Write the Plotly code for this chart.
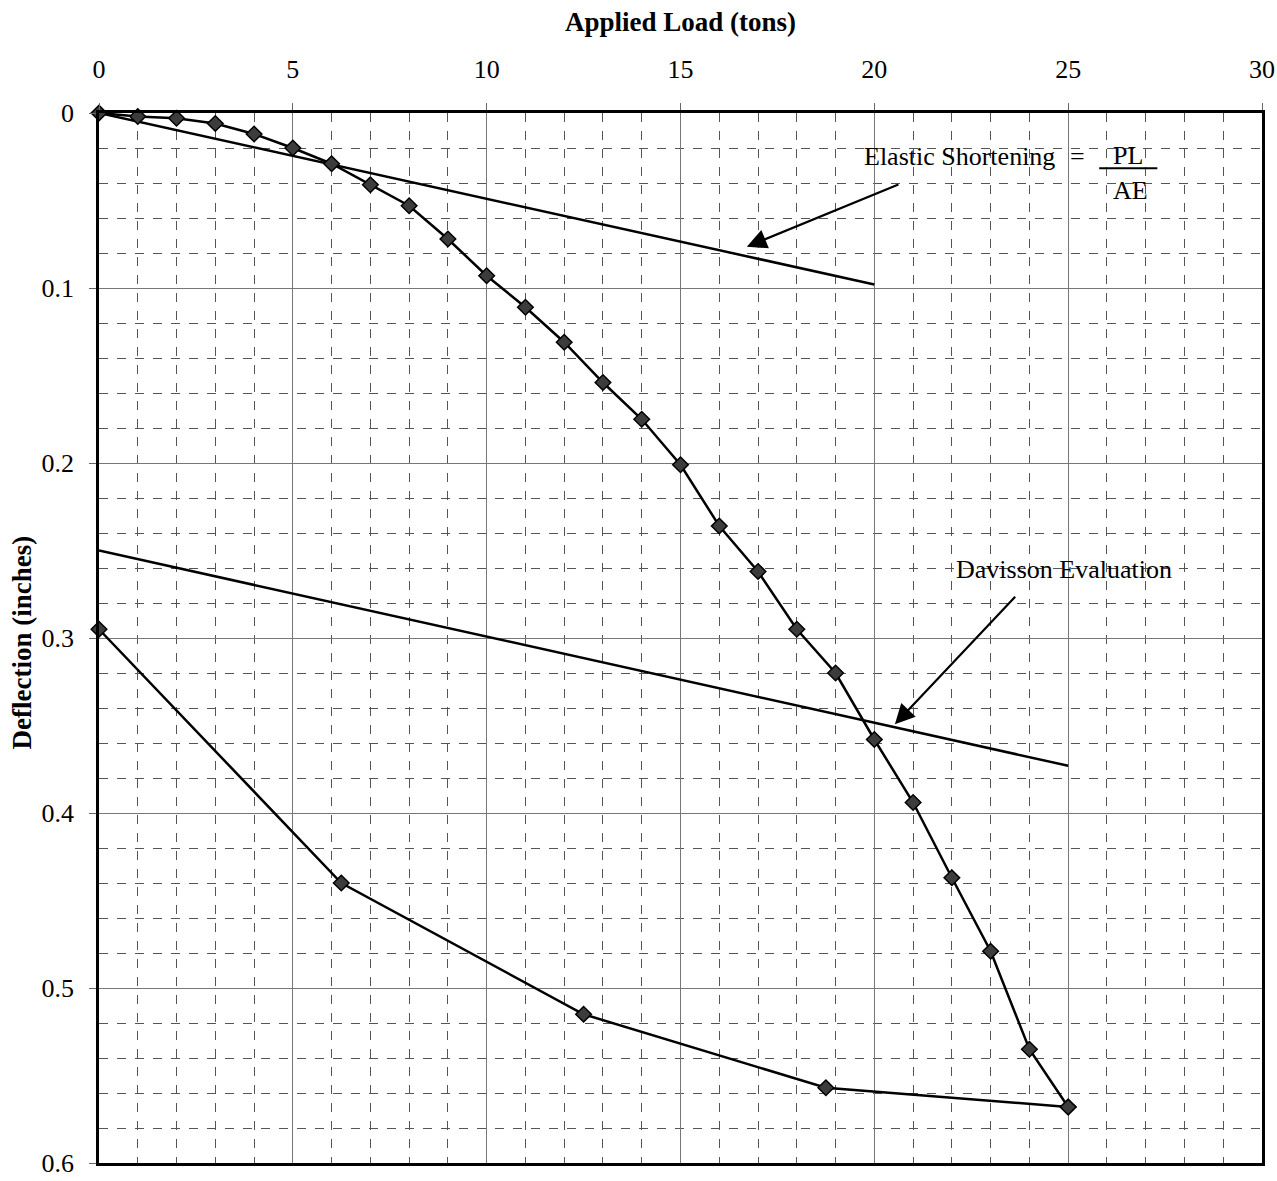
import plotly.graph_objects as go

# ---- data ----
load_loading = [0, 1, 2, 3, 4, 5, 6, 7, 8, 9, 10, 11, 12, 13, 14, 15, 16, 17, 18, 19, 20, 21, 22, 23, 24, 25]
defl_loading = [0.0, 0.002, 0.003, 0.006, 0.012, 0.020, 0.029, 0.041, 0.053, 0.072, 0.093, 0.111,
                0.131, 0.154, 0.175, 0.201, 0.236, 0.262, 0.295, 0.320, 0.358, 0.394, 0.437,
                0.479, 0.535, 0.568]
load_unloading = [25, 18.75, 12.5, 6.25, 0]
defl_unloading = [0.568, 0.557, 0.515, 0.440, 0.295]
elastic_load = [0, 20]
elastic_defl = [0.0, 0.098]
davisson_load = [0, 25]
davisson_defl = [0.25, 0.373]

x_ticks = [0, 5, 10, 15, 20, 25, 30]
y_ticks = [0, 0.1, 0.2, 0.3, 0.4, 0.5, 0.6]
y_tick_text = ["0", "0.1", "0.2", "0.3", "0.4", "0.5", "0.6"]

FONT = "Liberation Serif, Times New Roman, serif"

marker_style = dict(symbol="diamond", size=12, color="#3c3c3c", line=dict(color="black", width=1.5))

fig = go.Figure()
fig.add_trace(go.Scatter(x=elastic_load, y=elastic_defl, mode="lines",
                         line=dict(color="black", width=2.5), showlegend=False))
fig.add_trace(go.Scatter(x=davisson_load, y=davisson_defl, mode="lines",
                         line=dict(color="black", width=2.5), showlegend=False))
fig.add_trace(go.Scatter(x=load_loading, y=defl_loading, mode="lines+markers",
                         line=dict(color="black", width=2.5), marker=marker_style,
                         cliponaxis=False, showlegend=False))
fig.add_trace(go.Scatter(x=load_unloading, y=defl_unloading, mode="lines+markers",
                         line=dict(color="black", width=2.5), marker=marker_style,
                         cliponaxis=False, showlegend=False))

fig.update_xaxes(range=[0, 30], side="top", tickvals=x_ticks, ticktext=[str(v) for v in x_ticks],
                 ticks="outside", ticklen=7, tickcolor="#666", tickwidth=1,
                 showgrid=True, gridcolor="#777", gridwidth=1,
                 minor=dict(dtick=1, showgrid=True, gridcolor="#555", griddash="dash", gridwidth=1),
                 showline=True, linecolor="black", linewidth=2.5, mirror=True,
                 tickfont=dict(family=FONT, size=26, color="black"),
                 ticklabelstandoff=15, zeroline=False, automargin=False,
                 ticklabeloverflow="allow")
fig.update_yaxes(range=[0.6, 0], tickvals=y_ticks, ticktext=y_tick_text,
                 ticks="outside", ticklen=7, tickcolor="#666", tickwidth=1,
                 showgrid=True, gridcolor="#777", gridwidth=1,
                 minor=dict(dtick=0.02, tick0=0, showgrid=True, gridcolor="#555", griddash="dash", gridwidth=1),
                 showline=True, linecolor="black", linewidth=2.5, mirror=True,
                 tickfont=dict(family=FONT, size=26, color="black"),
                 ticklabelstandoff=10, zeroline=False, automargin=False,
                 ticklabeloverflow="allow")

annotations = [
    dict(text="<b>Applied Load (tons)</b>", xref="paper", yref="paper", x=0.5, y=1.087,
         xanchor="center", yanchor="middle", showarrow=False,
         font=dict(family=FONT, size=27, color="black")),
    dict(text="<b>Deflection (inches)</b>", xref="paper", yref="paper", x=-0.0662, y=0.4957,
         xanchor="center", yanchor="middle", showarrow=False, textangle=-90,
         font=dict(family=FONT, size=27, color="black")),
    dict(text="Elastic Shortening", x=19.67, y=0.0249, xanchor="left", yanchor="middle",
         showarrow=False, font=dict(family=FONT, size=26, color="black")),
    dict(text="=", x=25.25, y=0.0249, xanchor="center", yanchor="middle",
         showarrow=False, font=dict(family=FONT, size=26, color="black")),
    dict(text="PL", x=26.55, y=0.0245, xanchor="center", yanchor="middle",
         showarrow=False, font=dict(family=FONT, size=26, color="black")),
    dict(text="AE", x=26.6, y=0.0443, xanchor="center", yanchor="middle",
         showarrow=False, font=dict(family=FONT, size=26, color="black")),
    dict(text="Davisson Evaluation", x=24.9, y=0.2608, xanchor="center", yanchor="middle",
         showarrow=False, font=dict(family=FONT, size=26, color="black")),
    dict(text="", x=16.71, y=0.0764, ax=20.66, ay=0.0405, axref="x", ayref="y",
         showarrow=True, arrowhead=2, arrowsize=1.8, arrowwidth=2.2, arrowcolor="black"),
    dict(text="", x=20.53, y=0.3493, ax=23.67, ay=0.2756, axref="x", ayref="y",
         showarrow=True, arrowhead=2, arrowsize=1.8, arrowwidth=2.2, arrowcolor="black"),
]
fig.update_layout(annotations=annotations)

# fraction bar under "PL"
fig.add_shape(type="line", x0=25.8, x1=27.3, y0=0.0315, y1=0.0315, xref="x", yref="y",
              line=dict(color="black", width=2))

fig.update_layout(width=1277, height=1181, margin=dict(l=99, r=15, t=113, b=18),
                  plot_bgcolor="white", paper_bgcolor="white")

fig.write_html("out.html")
